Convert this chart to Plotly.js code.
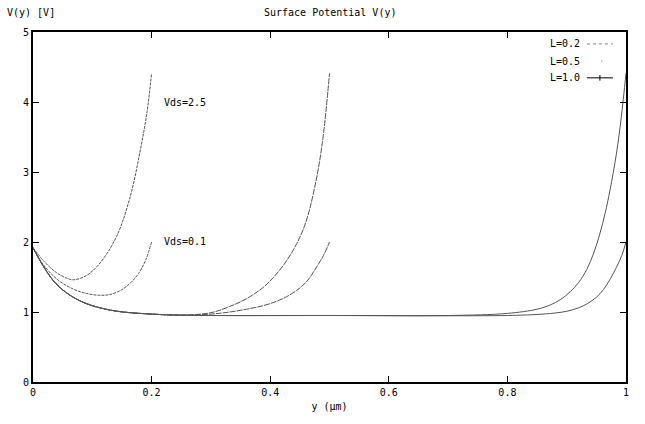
<!DOCTYPE html>
<html><head><meta charset="utf-8">
<script src="https://cdn.plot.ly/plotly-3.0.1.min.js"></script>
<style>html,body{margin:0;padding:0;background:#fff}#c{width:645px;height:424px}</style>
</head><body><div id="c"></div>
<script>
// L = 0.2 um
const y_L02_v25 = [0, 0.02, 0.04, 0.055, 0.068, 0.09, 0.113, 0.141, 0.164, 0.18, 0.192, 0.20];
const V_L02_v25 = [1.92, 1.71, 1.56, 1.49, 1.46, 1.52, 1.70, 2.08, 2.65, 3.27, 3.84, 4.41];
const y_L02_v01 = [0, 0.017, 0.035, 0.05, 0.07, 0.09, 0.11, 0.13, 0.15, 0.165, 0.178, 0.19, 0.20];
const V_L02_v01 = [1.92, 1.68, 1.51, 1.41, 1.32, 1.265, 1.24, 1.25, 1.32, 1.42, 1.55, 1.74, 2.00];
// L = 0.5 um
const y_L05_v25 = [0, 0.017, 0.035, 0.051, 0.07, 0.09, 0.115, 0.147, 0.20, 0.25, 0.30, 0.332, 0.36, 0.388, 0.405, 0.425, 0.445, 0.46, 0.475, 0.488, 0.50];
const V_L05_v25 = [1.92, 1.66, 1.44, 1.31, 1.20, 1.12, 1.055, 1.005, 0.97, 0.955, 0.99, 1.08, 1.19, 1.35, 1.49, 1.70, 1.98, 2.28, 2.78, 3.42, 4.41];
const y_L05_v01 = [0, 0.017, 0.035, 0.051, 0.07, 0.09, 0.115, 0.147, 0.20, 0.25, 0.30, 0.332, 0.36, 0.388, 0.41, 0.428, 0.445, 0.462, 0.478, 0.49, 0.50];
const V_L05_v01 = [1.92, 1.66, 1.44, 1.31, 1.20, 1.12, 1.055, 1.005, 0.97, 0.955, 0.97, 1.00, 1.04, 1.09, 1.15, 1.22, 1.31, 1.44, 1.64, 1.81, 2.00];
// L = 1.0 um
const y_L10_v25 = [0, 0.017, 0.035, 0.051, 0.07, 0.09, 0.115, 0.147, 0.20, 0.25, 0.30, 0.50, 0.70, 0.80, 0.85, 0.872, 0.89, 0.906, 0.92, 0.934, 0.945, 0.956, 0.965, 0.973, 0.984, 0.992, 1.00];
const V_L10_v25 = [1.92, 1.66, 1.44, 1.31, 1.20, 1.12, 1.055, 1.005, 0.97, 0.955, 0.95, 0.95, 0.95, 0.98, 1.04, 1.10, 1.18, 1.29, 1.42, 1.61, 1.83, 2.12, 2.42, 2.74, 3.27, 3.78, 4.41];
const y_L10_v01 = [0, 0.017, 0.035, 0.051, 0.07, 0.09, 0.115, 0.147, 0.20, 0.25, 0.30, 0.50, 0.80, 0.85, 0.88, 0.90, 0.92, 0.935, 0.95, 0.962, 0.974, 0.984, 0.993, 1.00];
const V_L10_v01 = [1.92, 1.66, 1.44, 1.31, 1.20, 1.12, 1.055, 1.005, 0.97, 0.955, 0.95, 0.95, 0.95, 0.965, 0.985, 1.01, 1.06, 1.12, 1.21, 1.32, 1.48, 1.64, 1.81, 2.00];

const legendNames = ["L=0.2", "L=0.5", "L=1.0"];
const curveLabels = ["Vds=2.5", "Vds=0.1"];
const labelPos = [[0.218, 3.99], [0.218, 2.01]];
const xTicks = [0, 0.2, 0.4, 0.6, 0.8, 1];
const xTickText = ["0", "0.2", "0.4", "0.6", "0.8", "1"];
const yTicks = [0, 1, 2, 3, 4, 5];

const FONT = "DejaVu Sans Mono, monospace";
const lineCol = "#555";
function tr(x, y, dash, name){
  return {x: x, y: y, type: "scatter", mode: "lines", name: name, showlegend: false,
    line: {color: lineCol, width: 1, dash: dash, shape: "spline", smoothing: 1}, hoverinfo: "skip"};
}
const data = [
  tr(y_L02_v25, V_L02_v25, "3px,1px", legendNames[0]),
  tr(y_L02_v01, V_L02_v01, "3px,1px", legendNames[0]),
  tr(y_L05_v25, V_L05_v25, "6px,1px", legendNames[1]),
  tr(y_L05_v01, V_L05_v01, "6px,1px", legendNames[1]),
  tr(y_L10_v25, V_L10_v25, "solid", legendNames[2]),
  tr(y_L10_v01, V_L10_v01, "solid", legendNames[2])
];

const annotations = [
  {xref: "paper", yref: "paper", x: 0.5, y: 1, yshift: 20, text: "Surface Potential V(y)", showarrow: false,
   font: {family: FONT, size: 10, color: "#000"}, xanchor: "center", yanchor: "middle"},
  {xref: "paper", yref: "paper", x: 0, xshift: -28, y: 1, yshift: 20, text: "V(y) [V]", showarrow: false,
   font: {family: FONT, size: 10, color: "#000"}, xanchor: "left", yanchor: "middle"}
];
curveLabels.forEach((t, i) => annotations.push({x: labelPos[i][0], y: labelPos[i][1], text: t, showarrow: false,
  xanchor: "left", yanchor: "middle", font: {family: FONT, size: 10, color: "#000"}}));
const legY = [0.966, 0.917, 0.869];
legendNames.forEach((t, i) => annotations.push({xref: "paper", yref: "paper", x: 0.926, y: legY[i],
  text: t, showarrow: false, xanchor: "right", yanchor: "middle", font: {family: FONT, size: 10, color: "#000"}}));

const shapes = [
  {type: "line", xref: "paper", yref: "paper", x0: 0.934, x1: 0.978, y0: legY[0], y1: legY[0], line: {color: "#888", width: 1, dash: "dot"}},
  {type: "line", xref: "paper", yref: "paper", x0: 0.958, x1: 0.960, y0: legY[1], y1: legY[1], line: {color: "#888", width: 1}},
  {type: "line", xref: "paper", yref: "paper", x0: 0.934, x1: 0.978, y0: legY[2], y1: legY[2], line: {color: "#000", width: 1}},
  {type: "line", xref: "paper", yref: "paper", x0: 0.956, x1: 0.956, y0: legY[2] - 0.008, y1: legY[2] + 0.008, line: {color: "#000", width: 1}}
];

const layout = {
  width: 645, height: 424,
  margin: {l: 33, r: 19, t: 32, b: 42},
  paper_bgcolor: "#fff", plot_bgcolor: "#fff",
  showlegend: false,
  font: {family: FONT, size: 10, color: "#000"},
  xaxis: {range: [0, 1], tickvals: xTicks, ticktext: xTickText, ticks: "inside", ticklen: 6, tickcolor: "#000",
    showline: true, linecolor: "#000", linewidth: 2, mirror: "ticks", showgrid: false, zeroline: false,
    title: {text: "y (µm)", font: {family: FONT, size: 10}, standoff: 6},
    tickfont: {family: FONT, size: 10}},
  yaxis: {range: [0, 5], tickvals: yTicks, ticks: "inside", ticklen: 6, tickcolor: "#000",
    showline: true, linecolor: "#000", linewidth: 2, mirror: "ticks", showgrid: false, zeroline: false,
    tickfont: {family: FONT, size: 10}},
  annotations: annotations,
  shapes: shapes
};
Plotly.newPlot("c", data, layout, {displayModeBar: false, staticPlot: true});
</script></body></html>
